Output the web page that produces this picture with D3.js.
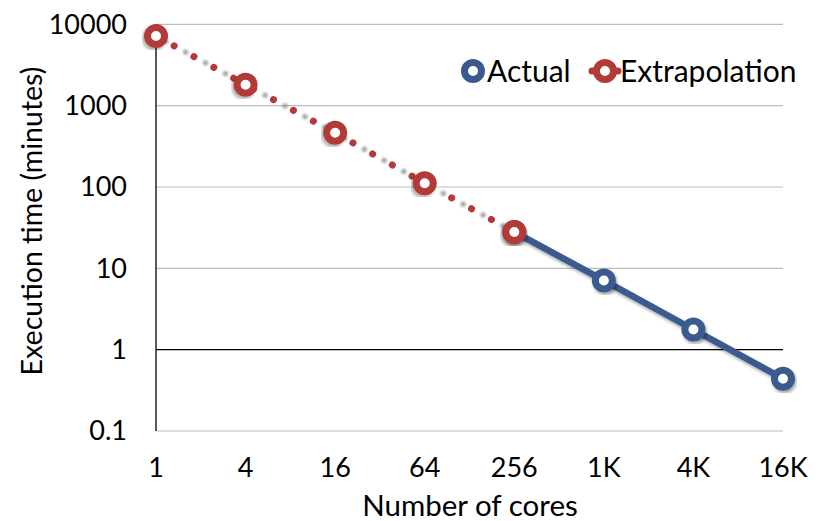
<!DOCTYPE html>
<html><head><meta charset="utf-8">
<script src="https://cdn.jsdelivr.net/npm/d3@7"></script>
<style>body{margin:0;background:#fff}svg{display:block}text{font-family:Lato,"Open Sans",sans-serif;fill:#000}</style>
</head><body><svg id="c" width="821" height="521"></svg>
<script>
const categories = ["1","4","16","64","256","1K","4K","16K"];
const extrapolation = [7190, 1810, 464, 111, 28, null, null, null];
const actual = [null, null, null, null, 28, 7.1, 1.77, 0.44];
const yTicks = [0.1, 1, 10, 100, 1000, 10000];
const yTickLabels = ["0.1","1","10","100","1000","10000"];

const svg = d3.select("#c");
const L = 156, R = 783, T = 24.3, B = 431;
const x = d3.scalePoint().domain(categories).range([L, R]);
const y = d3.scaleLog().domain([0.1, 10000]).range([B, T]);
const red = "#b23a38", blue = "#3a5a8e";

const defs = svg.append("defs");
const f = defs.append("filter").attr("id","sh").attr("x","-30%").attr("y","-30%").attr("width","160%").attr("height","160%");
f.append("feDropShadow").attr("dx",1.5).attr("dy",2.5).attr("stdDeviation",1.6).attr("flood-color","#000").attr("flood-opacity",0.35);
const fr = defs.append("filter").attr("id","shr").attr("x","-30%").attr("y","-30%").attr("width","160%").attr("height","160%");
fr.append("feDropShadow").attr("dx",-2).attr("dy",2.5).attr("stdDeviation",1.5).attr("flood-color","#000").attr("flood-opacity",0.3);
const fb = defs.append("filter").attr("id","blur");
fb.append("feGaussianBlur").attr("stdDeviation",0.9);

// gridlines
svg.append("g").selectAll("line").data(yTicks).join("line")
  .attr("x1", L).attr("x2", R).attr("y1", d => y(d)).attr("y2", d => y(d))
  .attr("stroke", d => d === 1 ? "#000" : "#bdbdbd").attr("stroke-width", 1.2);
// y axis line
svg.append("line").attr("x1", L).attr("x2", L).attr("y1", T).attr("y2", B).attr("stroke", "#000").attr("stroke-width", 1.3);

// y tick labels
svg.append("g").selectAll("text").data(yTicks).join("text")
  .attr("x", 127).attr("y", d => y(d)).attr("dy", "0.35em").attr("text-anchor", "end")
  .attr("font-size", 27).text((d, i) => yTickLabels[i]);
// x tick labels
svg.append("g").selectAll("text").data(categories).join("text")
  .attr("x", d => x(d)).attr("y", 468).attr("dy", "0.35em").attr("text-anchor", "middle")
  .attr("font-size", 27).text(d => d);

svg.append("text").attr("x", 470).attr("y", 506).attr("dy", "0.35em").attr("text-anchor", "middle")
  .attr("font-size", 29.5).text("Number of cores");
svg.append("text").attr("transform", "translate(32,221) rotate(-90)").attr("dy", "0.35em").attr("text-anchor", "middle")
  .attr("font-size", 28.5).text("Execution time (minutes)");

const line = d3.line().defined(d => d.v != null).x(d => x(d.c)).y(d => y(d.v));
const ext = categories.map((c, i) => ({c, v: extrapolation[i]}));
const act = categories.map((c, i) => ({c, v: actual[i]}));

// extrapolation dotted shadow + line
svg.append("path").datum(ext).attr("d", line).attr("fill", "none")
  .attr("stroke", "#9a9a9a").attr("stroke-width", 5.5).attr("stroke-linecap", "round")
  .attr("stroke-dasharray", "0.01 22.6").attr("stroke-dashoffset", 11.5).attr("filter", "url(#blur)").attr("opacity", 0.85);
svg.append("path").datum(ext).attr("d", line).attr("fill", "none")
  .attr("stroke", red).attr("stroke-width", 7).attr("stroke-linecap", "round")
  .attr("stroke-dasharray", "0.01 22.6").attr("stroke-dashoffset", 2);

// actual line
svg.append("path").datum(act).attr("d", line).attr("fill", "none")
  .attr("stroke", blue).attr("stroke-width", 6.5).attr("filter", "url(#sh)");

// markers
function markers(data, color, filt) {
  svg.append("g").selectAll("circle").data(data.filter(d => d.v != null)).join("circle")
    .attr("cx", d => x(d.c)).attr("cy", d => y(d.v)).attr("r", 8.5)
    .attr("fill", "#fff").attr("stroke", color).attr("stroke-width", 7).attr("filter", filt);
}
markers(act, blue, "url(#sh)");
markers(ext, red, "url(#shr)");

// legend
const lg = svg.append("g");
lg.append("circle").attr("cx", 473).attr("cy", 71).attr("r", 8.5).attr("fill", "#fff").attr("stroke", blue).attr("stroke-width", 7);
lg.append("text").attr("x", 487).attr("y", 71).attr("dy", "0.35em").attr("font-size", 30).text("Actual");
lg.append("line").attr("x1", 592).attr("x2", 618).attr("y1", 71).attr("y2", 71).attr("stroke", red).attr("stroke-width", 7).attr("stroke-linecap", "round");
lg.append("circle").attr("cx", 605).attr("cy", 71).attr("r", 8.5).attr("fill", "#fff").attr("stroke", red).attr("stroke-width", 7);
lg.append("text").attr("x", 620).attr("y", 71).attr("dy", "0.35em").attr("font-size", 30).text("Extrapolation");
</script></body></html>
